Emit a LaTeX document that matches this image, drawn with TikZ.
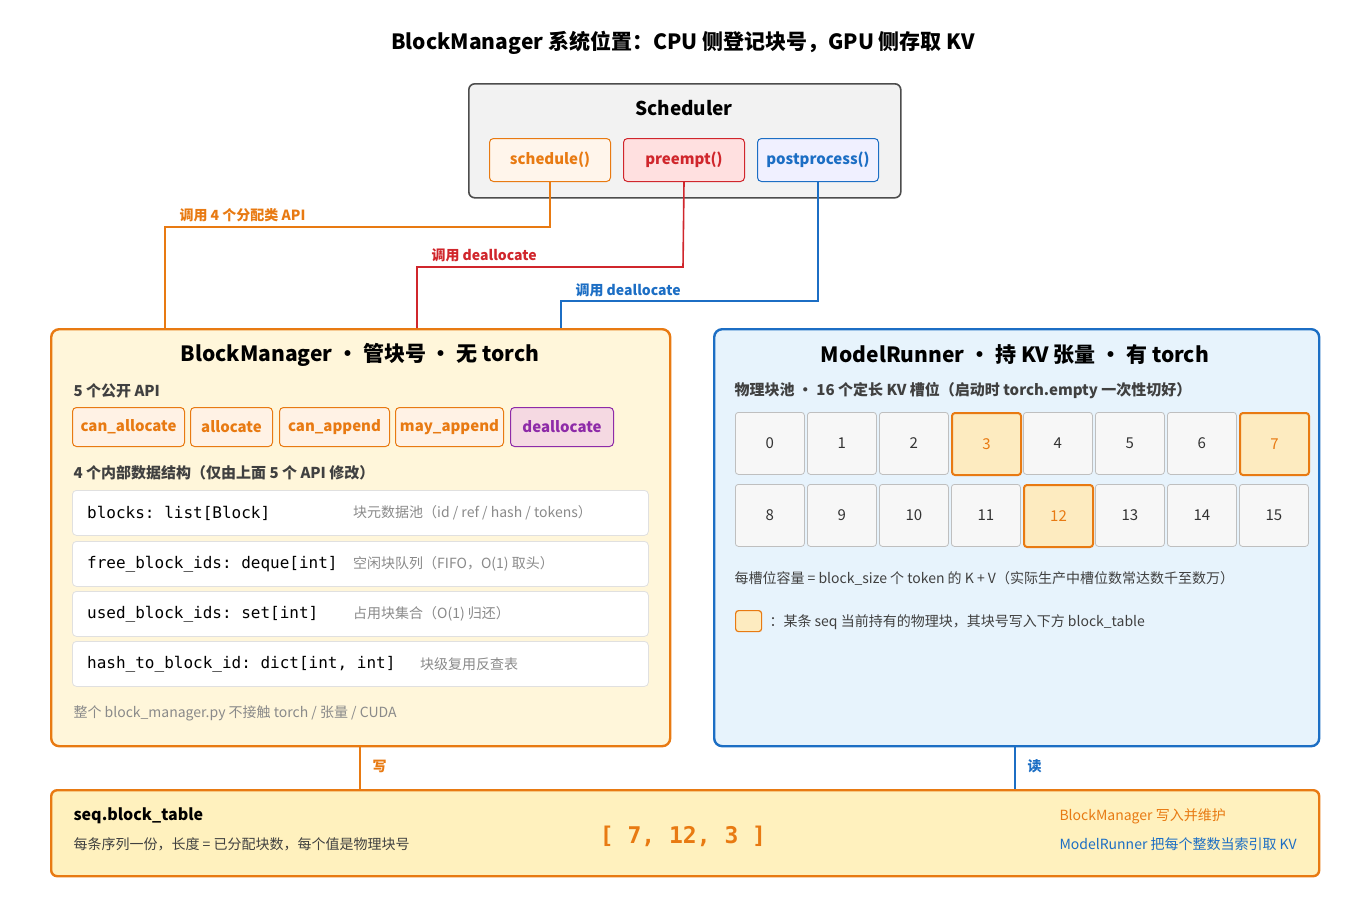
\documentclass[tikz,border=0pt]{standalone}
\usepackage{fontspec}
\setmainfont{Noto Sans CJK SC}
\setmonofont{DejaVu Sans Mono}
\begin{document}
\definecolor{org}{HTML}{E87A12}
\definecolor{redc}{HTML}{D0262C}
\definecolor{bluc}{HTML}{1C6EC4}
\definecolor{purc}{HTML}{8E2BA8}
\definecolor{gry}{HTML}{8A8A8A}
\definecolor{bmfill}{HTML}{FFF6DA}
\definecolor{mrfill}{HTML}{E7F3FC}
\definecolor{btfill}{HTML}{FFF1BE}
\definecolor{hfill}{HTML}{FDEBC0}
\begin{tikzpicture}[x=1pt,y=-1pt,
  fs/.style={font=\fontsize{#1}{#1}\selectfont},
  btn/.style={draw=#1,line width=1pt,rounded corners=4pt,anchor=north west,inner sep=0pt,text=#1,font=\fontsize{15}{15}\selectfont\bfseries},
  row/.style={draw=black!12,fill=white,line width=0.8pt,rounded corners=4pt},
  cell/.style={draw=black!25,fill=black!3,line width=0.8pt,rounded corners=3pt,inner sep=0pt,minimum width=69pt,minimum height=62pt,font=\fontsize{15}{15}\selectfont,text=black!80},
  hcell/.style={cell,draw=org,fill=hfill,line width=2pt,text=org},
  lbl/.style={font=\fontsize{14}{14}\selectfont\bfseries,anchor=west},
  conn/.style={line width=1.6pt}]
\useasboundingbox (0,0) rectangle (1366,922);
\node[font=\fontsize{21}{21}\selectfont\bfseries] (title) at (683,43) {BlockManager 系统位置：CPU 侧登记块号，GPU 侧存取 KV};
% Scheduler
\node[draw=black!70,fill=black!5,line width=1.6pt,rounded corners=6pt,minimum width=432pt,minimum height=114pt,anchor=north west] (sch) at (468,83) {};
\node[font=\fontsize{19}{19}\selectfont\bfseries] (scht) at (684,108) {Scheduler};
\node[btn=org,fill=orange!8,minimum width=121pt,minimum height=43pt] (sb) at (489,138) {schedule()};
\node[btn=redc,fill=red!12,minimum width=121pt,minimum height=43pt] (pb) at (623,138) {preempt()};
\node[btn=bluc,fill=blue!6,minimum width=121pt,minimum height=43pt] (qb) at (757,138) {postprocess()};
% BlockManager box
\node[draw=org,fill=bmfill,line width=2.4pt,rounded corners=8pt,minimum width=619pt,minimum height=417pt,anchor=north west] (bm) at (50,328) {};
\node[font=\fontsize{21}{21}\selectfont\bfseries] (bmt) at (360,355) {BlockManager · 管块号 · 无 torch};
\node[font=\fontsize{15}{15}\selectfont\bfseries,anchor=west,text=black!75] (api) at (70,391) {5 个公开 API};
\node[btn=org,fill=orange!10,minimum width=112pt,minimum height=39pt] (a1) at (72,407) {can\_allocate};
\node[btn=org,fill=orange!10,minimum width=82pt,minimum height=39pt] (a2) at (190,407) {allocate};
\node[btn=org,fill=orange!10,minimum width=110pt,minimum height=39pt] (a3) at (279,407) {can\_append};
\node[btn=org,fill=orange!10,minimum width=108pt,minimum height=39pt] (a4) at (395,407) {may\_append};
\node[btn=purc,fill=purple!15,minimum width=103pt,minimum height=39pt] (a5) at (510,407) {deallocate};
\node[font=\fontsize{15}{15}\selectfont\bfseries,anchor=west,text=black!75] (ds) at (70,473) {4 个内部数据结构（仅由上面 5 个 API 修改）};
\foreach \n/\y/\a/\b/\bx in {r1/490/{blocks: list[Block]}/{块元数据池（id / ref / hash / tokens）}/353,
  r2/541/{free\_block\_ids: deque[int]}/{空闲块队列（FIFO，O(1) 取头）}/353,
  r3/591/{used\_block\_ids: set[int]}/{占用块集合（O(1) 归还）}/353,
  r4/641/{hash\_to\_block\_id: dict[int, int]}/{块级复用反查表}/420}{
  \node[row,minimum width=576pt,minimum height=45pt,anchor=north west] (\n) at (72,\y) {};
  \node[anchor=west,font=\ttfamily\fontsize{16}{17}\selectfont,inner sep=0pt] (\n a) at (87,\y+23) {\a};
  \node[anchor=west,fs=14,text=gry,inner sep=0pt] (\n b) at (\bx,\y+23) {\b};
}
\node[font=\fontsize{14}{14}\selectfont\itshape,anchor=west,text=gry] (foot) at (70,713) {整个 block\_manager.py 不接触 torch / 张量 / CUDA};
% ModelRunner
\node[draw=bluc,fill=mrfill,line width=2.4pt,rounded corners=8pt,minimum width=605pt,minimum height=417pt,anchor=north west] (mr) at (713,328) {};
\node[font=\fontsize{21}{21}\selectfont\bfseries] (mrt) at (1015,355) {ModelRunner · 持 KV 张量 · 有 torch};
\node[font=\fontsize{15}{15}\selectfont\bfseries,anchor=west,text=black!75] (pool) at (731,391) {物理块池 · 16 个定长 KV 槽位（启动时 torch.empty 一次性切好）};
\foreach \i in {0,...,7}{
  \pgfmathtruncatemacro{\j}{\i+8}
  \ifnum\i=3 \def\sa{hcell}\else\ifnum\i=7 \def\sa{hcell}\else\def\sa{cell}\fi\fi
  \ifnum\j=12 \def\sb{hcell}\else\def\sb{cell}\fi
  \node[\sa,anchor=north west] (c\i) at (735+72*\i,412) {\i};
  \node[\sb,anchor=north west] (c\j) at (735+72*\i,484) {\j};
}
\node[fs=14,anchor=west,text=black!75] (cap) at (731,578) {每槽位容量 = block\_size 个 token 的 K + V（实际生产中槽位数常达数千至数万）};
\node[draw=org,fill=hfill,line width=1.2pt,rounded corners=3pt,minimum width=26pt,minimum height=21pt,anchor=north west,inner sep=0pt] (leg) at (735,610) {};
\node[fs=14,anchor=west,text=black!75] (legt) at (766,622) {：某条 seq 当前持有的物理块，其块号写入下方 block\_table};
% bottom
\node[draw=org,fill=btfill,line width=2.4pt,rounded corners=6pt,minimum width=1268pt,minimum height=86pt,anchor=north west] (bt) at (50,789) {};
\node[font=\fontsize{16}{16}\selectfont\bfseries,anchor=west] (btt) at (70,816) {seq.block\_table};
\node[fs=14,anchor=west,text=black!75] (bts) at (70,844) {每条序列一份，长度 = 已分配块数，每个值是物理块号};
\node[font=\ttfamily\bfseries\fontsize{23}{23}\selectfont,text=org] (arr) at (683,836) {[ 7, 12, 3 ]};
\node[fs=14,anchor=west,text=org] (w1) at (1056,816) {BlockManager 写入并维护};
\node[fs=14,anchor=west,text=bluc] (w2) at (1056,844) {ModelRunner 把每个整数当索引取 KV};
% connectors
\draw[conn,org] (sb.south) -- (550,227) -- (165,227) -- (165,328);
\node[lbl,text=org] (l1) at (176,215) {调用 4 个分配类 API};
\draw[conn,redc] (pb.south) -- (683,267) -- (417,267) -- (417,328);
\node[lbl,text=redc] (l2) at (428,255) {调用 deallocate};
\draw[conn,bluc] (qb.south) -- (818,301) -- (561,301) -- (561,328);
\node[lbl,text=bluc] (l3) at (572,290) {调用 deallocate};
\draw[conn,org,line width=2.2pt] (360,745) -- (360,789);
\node[lbl,text=org] (l4) at (369,766) {写};
\draw[conn,bluc,line width=2.2pt] (1015,745) -- (1015,789);
\node[lbl,text=bluc] (l5) at (1024,766) {读};
\end{tikzpicture}
\end{document}
